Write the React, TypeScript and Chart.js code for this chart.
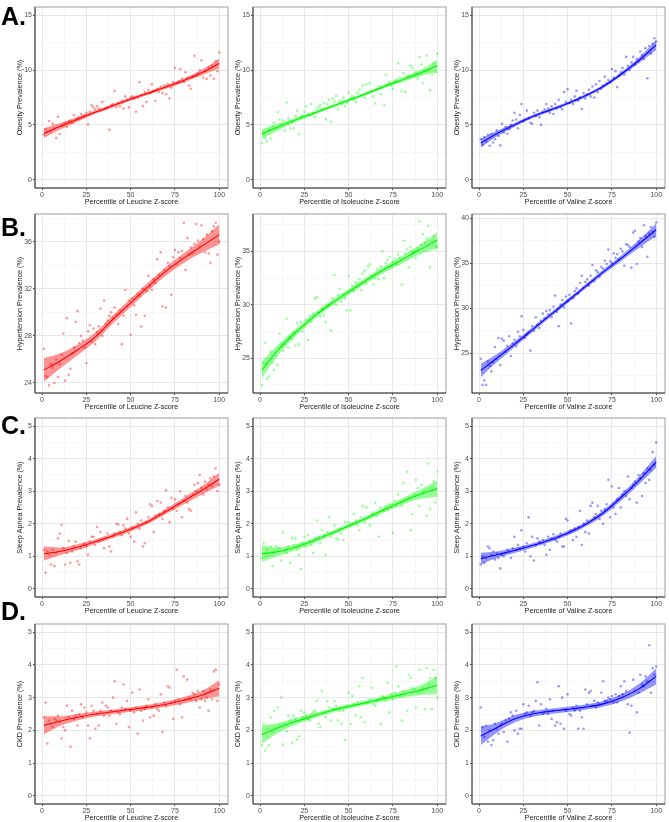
import React, { useEffect, useRef } from "react";
import { Chart, registerables } from "chart.js";

Chart.register(...registerables);

// ---- data -------------------------------------------------------------

const percentile = [
  1, 2, 3, 4, 5, 6, 7, 8, 9, 10, 11, 12, 13, 14, 15, 16, 17, 18, 19, 20,
  21, 22, 23, 24, 25, 26, 27, 28, 29, 30, 31, 32, 33, 34, 35, 36, 37, 38, 39, 40,
  41, 42, 43, 44, 45, 46, 47, 48, 49, 50, 51, 52, 53, 54, 55, 56, 57, 58, 59, 60,
  61, 62, 63, 64, 65, 66, 67, 68, 69, 70, 71, 72, 73, 74, 75, 76, 77, 78, 79, 80,
  81, 82, 83, 84, 85, 86, 87, 88, 89, 90, 91, 92, 93, 94, 95, 96, 97, 98, 99, 100,
];

// x positions where the smoothed fit and its confidence half-width are given
const fitAt = [1, 10, 20, 30, 40, 50, 60, 70, 80, 90, 100];

// Obesity prevalence (%)
const obesityLeucine = [
  4.1, 4.6, 4.3, 5.35, 4.4, 5.1, 4.7, 3.8, 5.75, 4.2,
  4.9, 5.0, 5.2, 4.8, 5.3, 5.4, 5.2, 5.9, 5.5, 5.6,
  5.7, 6.0, 5.8, 5.9, 6.1, 5.05, 6.2, 6.8, 6.6, 6.4,
  6.7, 6.5, 6.3, 7.1, 6.4, 6.5, 6.6, 4.55, 6.8, 6.9,
  8.1, 6.6, 7.0, 6.7, 7.2, 6.5, 7.6, 7.3, 6.6, 7.5,
  7.6, 7.4, 6.2, 7.5, 8.9, 7.7, 6.7, 8.0, 7.1, 8.2,
  7.9, 8.7, 8.1, 7.2, 8.3, 8.0, 8.5, 7.9, 8.6, 7.8,
  8.7, 7.4, 8.4, 8.9, 10.2, 8.8, 9.0, 10.1, 9.2, 8.9,
  9.8, 9.3, 8.6, 8.3, 9.4, 11.3, 9.5, 9.7, 10.0, 10.9,
  9.3, 9.9, 9.2, 10.2, 9.5, 10.4, 9.2, 10.8, 9.9, 11.6,
];
const obesityLeucineFit = [4.25, 4.85, 5.5, 6.15, 6.75, 7.35, 7.9, 8.45, 9.05, 9.75, 10.6];
const obesityLeucineBand = [0.45, 0.3, 0.2, 0.16, 0.15, 0.15, 0.15, 0.16, 0.18, 0.25, 0.45];

const obesityIsoleucine = [
  3.35, 4.3, 3.8, 3.5, 4.6, 3.75, 4.9, 5.2, 4.7, 6.15,
  5.5, 5.0, 5.4, 4.5, 7.05, 5.6, 4.7, 5.3, 4.7, 5.8,
  6.3, 4.15, 5.7, 5.9, 6.2, 6.7, 6.0, 5.85, 6.9, 6.1,
  5.7, 6.4, 6.6, 6.8, 6.5, 7.0, 5.5, 6.9, 7.3, 5.3,
  7.4, 7.1, 7.65, 6.4, 7.2, 6.9, 7.5, 6.7, 7.0, 7.95,
  7.4, 7.6, 7.3, 7.1, 7.9, 8.2, 7.7, 8.6, 7.5, 8.7,
  8.0, 8.8, 8.1, 7.6, 6.95, 8.3, 8.5, 7.8, 8.4, 6.8,
  9.55, 8.7, 8.9, 8.6, 8.3, 9.0, 9.1, 10.6, 9.3, 8.1,
  9.7, 8.0, 9.4, 9.5, 10.4, 10.2, 9.6, 9.8, 9.2, 11.2,
  10.5, 8.8, 9.9, 11.3, 10.0, 8.15, 9.6, 10.6, 9.8, 11.5,
];
const obesityIsoleucineFit = [4.15, 4.8, 5.45, 6.05, 6.65, 7.25, 7.85, 8.5, 9.1, 9.7, 10.4];
const obesityIsoleucineBand = [0.45, 0.3, 0.2, 0.16, 0.15, 0.15, 0.15, 0.16, 0.2, 0.28, 0.55];

const obesityValine = [
  3.7, 3.2, 3.9, 3.5, 4.1, 3.1, 4.2, 3.4, 3.7, 4.5,
  4.0, 3.15, 5.1, 4.3, 4.8, 4.2, 4.6, 5.0, 5.4, 6.1,
  5.5, 4.7, 5.9, 6.9, 5.3, 5.5, 6.3, 5.6, 5.2, 5.1,
  6.1, 5.8, 6.3, 5.7, 5.0, 6.2, 6.4, 6.9, 6.5, 6.1,
  6.7, 6.0, 6.9, 6.5, 7.3, 6.6, 6.4, 8.0, 7.1, 8.25,
  7.0, 7.3, 6.9, 7.6, 8.1, 7.2, 7.5, 6.45, 7.9, 7.4,
  7.8, 8.2, 7.6, 8.5, 7.5, 8.7, 8.0, 9.0, 8.3, 8.6,
  9.4, 8.8, 9.1, 8.9, 10.1, 9.3, 9.9, 8.45, 9.5, 9.8,
  10.2, 9.6, 11.2, 10.4, 10.0, 10.7, 11.2, 10.5, 11.0, 10.8,
  11.7, 11.4, 11.0, 12.0, 9.25, 12.2, 11.5, 12.4, 12.9, 12.6,
];
const obesityValineFit = [3.35, 4.2, 5.0, 5.75, 6.35, 6.95, 7.65, 8.5, 9.6, 10.85, 12.3];
const obesityValineBand = [0.4, 0.25, 0.18, 0.15, 0.14, 0.14, 0.14, 0.15, 0.18, 0.25, 0.45];

// Hypertension prevalence (%)
const hypertensionLeucine = [
  26.9, 24.6, 24.5, 23.8, 25.6, 25.3, 24.0, 26.0, 24.5, 25.6,
  26.4, 28.2, 24.2, 29.5, 24.7, 25.2, 26.5, 27.0, 29.2, 30.1,
  27.4, 28.0, 27.6, 27.0, 25.7, 28.4, 28.9, 27.5, 28.6, 27.3,
  28.3, 28.8, 30.3, 28.0, 31.0, 29.0, 29.3, 29.7, 30.0, 29.5,
  30.4, 29.8, 29.0, 30.2, 27.3, 29.7, 31.9, 30.5, 31.0, 28.1,
  31.2, 30.6, 29.8, 31.6, 31.4, 28.8, 32.0, 29.7, 31.8, 33.1,
  32.2, 31.9, 32.8, 32.5, 34.5, 33.2, 35.1, 30.5, 33.6, 30.4,
  34.2, 33.9, 31.5, 34.7, 35.3, 34.1, 35.1, 34.6, 35.2, 37.6,
  33.6, 36.3, 34.9, 35.5, 35.0, 35.8, 37.5, 36.1, 35.6, 37.4,
  36.2, 35.1, 36.6, 35.0, 34.2, 36.9, 37.3, 37.6, 34.9, 36.0,
];
const hypertensionLeucineFit = [25.1, 25.85, 26.8, 27.9, 29.4, 30.8, 32.2, 33.5, 34.6, 35.6, 36.6];
const hypertensionLeucineBand = [1.0, 0.65, 0.45, 0.38, 0.35, 0.35, 0.35, 0.38, 0.42, 0.55, 0.85];

const hypertensionIsoleucine = [
  22.5, 24.5, 26.45, 23.1, 23.3, 25.6, 24.6, 23.9, 25.2, 24.4,
  27.3, 26.1, 25.7, 26.3, 28.7, 26.0, 27.0, 26.8, 27.4, 26.2,
  28.3, 26.3, 28.4, 27.5, 28.1, 28.6, 26.7, 29.0, 28.4, 29.2,
  30.6, 30.7, 29.3, 28.9, 29.6, 29.0, 28.4, 29.9, 30.0, 27.6,
  30.6, 32.8, 30.0, 30.9, 31.5, 30.3, 31.0, 30.6, 29.5, 32.7,
  29.5, 31.8, 31.3, 32.1, 31.7, 32.4, 31.4, 32.9, 33.2, 32.0,
  33.6, 33.8, 32.7, 31.9, 32.5, 33.3, 32.4, 33.6, 35.0, 32.5,
  33.9, 34.2, 34.5, 33.6, 34.0, 34.3, 33.8, 34.7, 34.4, 31.9,
  36.0, 34.8, 35.2, 33.5, 35.4, 34.9, 35.0, 34.4, 35.3, 37.8,
  35.6, 36.6, 35.8, 36.2, 37.4, 33.5, 35.9, 36.4, 35.5, 35.4,
];
const hypertensionIsoleucineFit = [23.9, 25.75, 27.4, 28.85, 30.1, 31.2, 32.3, 33.3, 34.2, 35.15, 36.05];
const hypertensionIsoleucineBand = [0.8, 0.5, 0.35, 0.3, 0.28, 0.28, 0.28, 0.3, 0.35, 0.45, 0.75];

const hypertensionValine = [
  24.4, 21.5, 22.0, 21.5, 24.1, 23.6, 23.0, 24.0, 25.7, 24.4,
  26.7, 23.7, 26.6, 26.4, 25.2, 25.8, 26.9, 24.7, 26.1, 26.5,
  25.8, 27.4, 26.9, 29.1, 27.6, 26.7, 27.1, 27.3, 25.3, 28.0,
  27.5, 29.0, 28.2, 27.8, 28.6, 29.4, 28.9, 29.7, 29.3, 29.8,
  29.0, 30.2, 31.4, 29.6, 28.0, 30.4, 30.9, 30.1, 31.3, 30.8,
  31.5, 28.3, 31.1, 31.9, 32.2, 31.6, 32.8, 33.6, 32.3, 32.9,
  33.2, 32.5, 33.6, 34.8, 33.0, 34.2, 34.0, 33.5, 34.6, 34.4,
  35.3, 34.9, 36.5, 35.2, 35.0, 36.1, 35.6, 36.0, 35.4, 36.6,
  36.3, 34.7, 37.1, 37.0, 36.8, 34.5, 38.4, 38.6, 34.9, 37.4,
  37.8, 36.8, 39.2, 38.0, 35.7, 38.3, 39.0, 38.5, 37.9, 39.5,
];
const hypertensionValineFit = [23.1, 24.45, 26.0, 27.6, 29.2, 30.8, 32.4, 34.0, 35.5, 37.1, 38.7];
const hypertensionValineBand = [0.75, 0.45, 0.32, 0.26, 0.24, 0.24, 0.24, 0.26, 0.32, 0.45, 0.7];

// Sleep apnea prevalence (%)
const sleepApneaLeucine = [
  1.2, 0.5, 1.15, 1.05, 0.75, 1.2, 0.7, 1.1, 1.55, 1.7,
  1.97, 1.25, 0.75, 1.1, 1.47, 0.8, 1.15, 1.3, 1.45, 0.85,
  0.75, 1.25, 1.35, 1.4, 1.3, 1.05, 1.45, 1.6, 1.6, 1.35,
  1.9, 1.45, 1.75, 1.5, 1.25, 1.55, 1.7, 1.3, 1.15, 1.6,
  1.7, 2.0, 1.98, 1.75, 1.65, 1.95, 1.85, 2.15, 1.7, 1.6,
  1.9, 1.45, 2.35, 2.0, 1.85, 2.1, 1.3, 1.4, 2.05, 2.2,
  2.6, 2.55, 1.75, 2.25, 2.7, 2.3, 2.65, 2.15, 2.4, 3.03,
  2.5, 2.05, 2.8, 2.45, 2.75, 2.4, 2.6, 3.0, 2.2, 2.7,
  2.85, 2.65, 2.45, 2.4, 2.9, 3.2, 3.0, 3.25, 3.5, 3.1,
  2.9, 3.3, 3.05, 3.2, 3.4, 3.15, 3.45, 3.7, 3.0, 3.2,
];
const sleepApneaLeucineFit = [1.08, 1.15, 1.28, 1.45, 1.63, 1.83, 2.07, 2.38, 2.7, 3.02, 3.37];
const sleepApneaLeucineBand = [0.22, 0.12, 0.09, 0.07, 0.07, 0.07, 0.07, 0.08, 0.1, 0.13, 0.2];

const sleepApneaIsoleucine = [
  0.95, 1.4, 1.0, 1.2, 1.05, 1.3, 0.7, 1.15, 1.3, 1.2,
  1.25, 0.87, 1.73, 1.2, 1.1, 1.3, 0.8, 1.55, 1.35, 1.55,
  1.2, 1.05, 0.62, 1.4, 1.6, 1.3, 1.65, 1.45, 1.35, 1.1,
  1.55, 2.1, 1.6, 1.4, 1.8, 1.65, 1.05, 1.75, 2.2, 1.6,
  1.7, 1.95, 1.55, 1.5, 1.85, 1.7, 1.5, 2.05, 1.9, 2.05,
  1.95, 2.0, 2.3, 2.1, 1.95, 1.8, 2.2, 2.55, 2.05, 2.5,
  2.2, 1.95, 2.3, 2.35, 2.65, 2.25, 1.6, 2.5, 2.4, 2.4,
  2.55, 2.45, 2.6, 2.5, 1.72, 2.7, 2.55, 2.9, 2.65, 2.55,
  3.25, 2.75, 3.6, 2.8, 1.8, 2.3, 2.9, 3.35, 3.1, 2.55,
  3.2, 2.95, 3.0, 2.25, 3.85, 2.45, 3.1, 3.3, 2.65, 3.6,
];
const sleepApneaIsoleucineFit = [1.08, 1.14, 1.28, 1.47, 1.7, 1.93, 2.17, 2.43, 2.68, 2.9, 3.08];
const sleepApneaIsoleucineBand = [0.25, 0.13, 0.09, 0.08, 0.07, 0.07, 0.07, 0.08, 0.1, 0.14, 0.25];

const sleepApneaValine = [
  0.75, 1.0, 0.8, 0.95, 1.3, 1.25, 1.05, 1.15, 0.9, 1.1,
  0.95, 0.63, 1.05, 1.0, 1.1, 1.2, 1.15, 0.95, 1.25, 1.6,
  1.2, 1.35, 1.25, 1.8, 1.3, 1.15, 1.4, 2.2, 1.0, 1.6,
  0.87, 1.35, 1.55, 1.45, 1.4, 1.5, 1.35, 1.05, 1.6, 1.2,
  1.55, 1.68, 1.5, 1.45, 1.6, 1.7, 1.3, 1.3, 2.15, 2.1,
  1.75, 1.8, 1.5, 1.85, 1.6, 1.9, 2.4, 1.35, 2.0, 1.75,
  2.1, 1.7, 2.55, 2.65, 2.2, 2.3, 2.55, 2.15, 2.4, 2.0,
  2.45, 2.6, 3.35, 2.2, 3.15, 2.5, 2.3, 2.75, 3.1, 2.5,
  2.9, 3.0, 2.85, 3.45, 2.75, 3.1, 3.2, 3.3, 2.65, 3.5,
  3.4, 2.85, 3.55, 3.25, 3.7, 3.35, 3.65, 4.2, 3.8, 4.5,
];
const sleepApneaValineFit = [0.93, 1.05, 1.18, 1.33, 1.5, 1.71, 1.98, 2.33, 2.8, 3.32, 3.9];
const sleepApneaValineBand = [0.18, 0.1, 0.08, 0.07, 0.07, 0.07, 0.07, 0.08, 0.1, 0.12, 0.18];

// CKD prevalence (%)
const ckdLeucine = [
  2.4, 2.85, 1.6, 2.3, 2.2, 2.1, 2.35, 2.3, 2.45, 2.25,
  1.75, 2.1, 2.0, 2.75, 2.4, 1.5, 2.6, 2.35, 2.45, 2.15,
  2.5, 2.8, 2.4, 2.7, 2.55, 2.15, 1.75, 2.75, 2.6, 2.05,
  2.5, 2.15, 2.6, 2.85, 2.45, 2.75, 2.7, 2.45, 2.6, 3.0,
  3.5, 2.2, 2.55, 2.5, 2.7, 3.4, 2.65, 2.9, 2.1, 2.6,
  3.15, 2.55, 2.7, 1.9, 3.25, 2.6, 2.3, 2.65, 2.75, 2.95,
  2.4, 2.7, 2.45, 2.8, 2.65, 2.6, 3.1, 1.95, 2.85, 2.75,
  3.35, 3.3, 2.85, 2.35, 2.9, 3.85, 2.95, 2.8, 2.4, 3.65,
  2.95, 3.55, 3.0, 2.95, 3.15, 3.1, 2.9, 3.2, 2.7, 2.95,
  3.2, 2.9, 3.0, 2.6, 3.25, 2.95, 3.8, 3.85, 2.9, 3.4,
];
const ckdLeucineFit = [2.15, 2.28, 2.4, 2.5, 2.57, 2.64, 2.71, 2.8, 2.92, 3.07, 3.29];
const ckdLeucineBand = [0.28, 0.15, 0.1, 0.08, 0.07, 0.07, 0.07, 0.08, 0.1, 0.13, 0.25];

const ckdIsoleucine = [
  1.55, 2.2, 1.38, 2.05, 1.55, 2.4, 1.95, 2.6, 2.1, 2.7,
  2.15, 3.0, 1.57, 2.2, 1.97, 2.45, 2.3, 1.62, 2.45, 2.35,
  1.72, 1.82, 2.6, 2.4, 2.55, 2.45, 2.35, 2.3, 2.5, 2.55,
  2.6, 2.9, 2.2, 2.1, 3.2, 2.55, 2.4, 2.9, 2.7, 2.3,
  2.65, 2.9, 2.75, 2.3, 2.6, 2.2, 2.6, 1.7, 2.75, 3.15,
  2.2, 3.05, 2.8, 2.45, 2.85, 3.35, 2.4, 3.6, 2.25, 2.85,
  2.85, 2.95, 3.3, 2.8, 2.75, 2.9, 2.95, 2.2, 3.05, 3.0,
  2.9, 3.45, 2.55, 3.1, 2.95, 3.15, 3.95, 3.35, 3.05, 2.3,
  3.2, 3.1, 2.6, 3.7, 3.6, 3.3, 3.25, 2.7, 3.15, 3.85,
  3.2, 3.3, 2.65, 3.9, 3.4, 3.6, 2.65, 3.85, 3.6, 3.0,
];
const ckdIsoleucineFit = [1.87, 2.07, 2.27, 2.44, 2.6, 2.73, 2.85, 2.97, 3.1, 3.22, 3.38];
const ckdIsoleucineBand = [0.28, 0.15, 0.1, 0.08, 0.07, 0.07, 0.07, 0.08, 0.1, 0.14, 0.28];

const ckdValine = [
  2.7, 2.1, 1.8, 2.15, 1.65, 2.0, 1.55, 1.7, 2.2, 2.05,
  1.9, 2.15, 2.2, 1.95, 2.3, 1.65, 2.35, 2.55, 2.45, 2.0,
  2.6, 1.9, 2.05, 2.05, 2.8, 2.5, 2.55, 2.75, 2.45, 2.55,
  2.6, 2.9, 3.47, 2.15, 2.8, 2.5, 2.55, 2.65, 2.5, 2.95,
  2.35, 2.6, 2.15, 2.25, 3.35, 2.2, 3.0, 2.05, 2.6, 3.1,
  2.5, 2.45, 2.7, 2.6, 2.75, 2.05, 2.6, 2.4, 2.05, 3.25,
  2.8, 3.15, 3.2, 2.75, 2.9, 2.7, 2.85, 2.8, 3.15, 3.5,
  2.9, 2.9, 3.0, 2.95, 3.05, 2.85, 3.1, 2.85, 3.05, 3.35,
  3.1, 3.5, 3.2, 2.8, 1.93, 2.75, 3.55, 3.2, 2.55, 3.15,
  3.7, 3.4, 3.35, 3.65, 3.5, 4.6, 3.15, 3.9, 3.7, 3.95,
];
const ckdValineFit = [1.83, 2.08, 2.35, 2.5, 2.58, 2.64, 2.71, 2.81, 2.99, 3.26, 3.65];
const ckdValineBand = [0.28, 0.15, 0.11, 0.09, 0.08, 0.08, 0.08, 0.09, 0.11, 0.15, 0.25];

// axis breaks
const xMajor = [0, 25, 50, 75, 100];
const xMinor = [12.5, 37.5, 62.5, 87.5];
const prevMajor = [0, 1, 2, 3, 4, 5];
const prevMinor = [0.5, 1.5, 2.5, 3.5, 4.5];
const obesityMajor = [0, 5, 10, 15];
const obesityMinor = [2.5, 7.5, 12.5];

// ---- layout ------------------------------------------------------------

const FONT = "'Liberation Sans', Arial, Helvetica, sans-serif";
const Y_AXIS_W = 21;
const X_AXIS_H = 19;
const PAD_TOP = 1;
const PAD_RIGHT = 1;

const colLeft = [35, 253, 472];
const colWidth = 196;
const rowTop = [4, 211, 415, 621];
const rowHeight = [184, 182, 182, 183];

type RGB = [number, number, number];
const RED: RGB = [255, 0, 0];
const GREEN: RGB = [0, 255, 0];
const BLUE: RGB = [0, 0, 255];

type PanelSpec = {
  y: number[];
  fit: number[];
  band: number[];
  rgb: RGB;
  lineColor: string;
  xTitle: string;
  yTitle: string;
  yMin: number;
  yMax: number;
  yMajor: number[];
  yMinor: number[];
  col: number;
  row: number;
};

const aminoTitles = [
  "Percentile of Leucine Z-score",
  "Percentile of Isoleucine Z-score",
  "Percentile of Valine Z-score",
];
const colours: RGB[] = [RED, GREEN, BLUE];
const lineColours = ["#ff0000", "#00ee00", "#0000ff"];

function panel(
  row: number,
  col: number,
  y: number[],
  fit: number[],
  band: number[],
  yTitle: string,
  yMin: number,
  yMax: number,
  yMajor: number[],
  yMinor: number[]
): PanelSpec {
  return {
    y, fit, band, yTitle, yMin, yMax, yMajor, yMinor, row, col,
    rgb: colours[col],
    lineColor: lineColours[col],
    xTitle: aminoTitles[col],
  };
}

const panels: PanelSpec[] = [
  panel(0, 0, obesityLeucine, obesityLeucineFit, obesityLeucineBand, "Obesity Prevalence (%)", -0.75, 15.75, obesityMajor, obesityMinor),
  panel(0, 1, obesityIsoleucine, obesityIsoleucineFit, obesityIsoleucineBand, "Obesity Prevalence (%)", -0.75, 15.75, obesityMajor, obesityMinor),
  panel(0, 2, obesityValine, obesityValineFit, obesityValineBand, "Obesity Prevalence (%)", -0.75, 15.75, obesityMajor, obesityMinor),
  panel(1, 0, hypertensionLeucine, hypertensionLeucineFit, hypertensionLeucineBand, "Hypertension Prevalence (%)", 23.15, 38.35, [24, 28, 32, 36], [26, 30, 34, 38]),
  panel(1, 1, hypertensionIsoleucine, hypertensionIsoleucineFit, hypertensionIsoleucineBand, "Hypertension Prevalence (%)", 21.75, 38.5, [25, 30, 35], [22.5, 27.5, 32.5, 37.5]),
  panel(1, 2, hypertensionValine, hypertensionValineFit, hypertensionValineBand, "Hypertension Prevalence (%)", 20.6, 40.45, [25, 30, 35, 40], [22.5, 27.5, 32.5, 37.5]),
  panel(2, 0, sleepApneaLeucine, sleepApneaLeucineFit, sleepApneaLeucineBand, "Sleep Apnea Prevalence (%)", -0.25, 5.25, prevMajor, prevMinor),
  panel(2, 1, sleepApneaIsoleucine, sleepApneaIsoleucineFit, sleepApneaIsoleucineBand, "Sleep Apnea Prevalence (%)", -0.25, 5.25, prevMajor, prevMinor),
  panel(2, 2, sleepApneaValine, sleepApneaValineFit, sleepApneaValineBand, "Sleep Apnea Prevalence (%)", -0.25, 5.25, prevMajor, prevMinor),
  panel(3, 0, ckdLeucine, ckdLeucineFit, ckdLeucineBand, "CKD Prevalence (%)", -0.25, 5.25, prevMajor, prevMinor),
  panel(3, 1, ckdIsoleucine, ckdIsoleucineFit, ckdIsoleucineBand, "CKD Prevalence (%)", -0.25, 5.25, prevMajor, prevMinor),
  panel(3, 2, ckdValine, ckdValineFit, ckdValineBand, "CKD Prevalence (%)", -0.25, 5.25, prevMajor, prevMinor),
];

const rowLetters = ["A.", "B.", "C.", "D."];
const letterTop = [3.5, 214.5, 413, 598.5];

// panel border: light grey all round, darker axis lines on the left and bottom
const framePlugin = {
  id: "panelFrame",
  afterDraw(chart: any) {
    const { ctx, chartArea: a } = chart;
    ctx.save();
    ctx.lineWidth = 1;
    ctx.strokeStyle = "#9d9d9d";
    ctx.strokeRect(a.left, a.top, a.right - a.left, a.bottom - a.top);
    ctx.strokeStyle = "#3a3a3a";
    ctx.beginPath();
    ctx.moveTo(a.left, a.top);
    ctx.lineTo(a.left, a.bottom);
    ctx.lineTo(a.right, a.bottom);
    ctx.stroke();
    ctx.restore();
  },
};

function zeroPadding(s: any) {
  s.paddingLeft = 0;
  s.paddingRight = 0;
  s.paddingTop = 0;
  s.paddingBottom = 0;
}

function Panel({ spec }: { spec: PanelSpec }) {
  const ref = useRef<HTMLCanvasElement | null>(null);
  const width = Y_AXIS_W + colWidth + PAD_RIGHT;
  const height = PAD_TOP + rowHeight[spec.row] + X_AXIS_H;

  useEffect(() => {
    if (!ref.current) return;
    const [r, g, b] = spec.rgb;
    const rgba = (a: number) => `rgba(${r},${g},${b},${a})`;
    const points = percentile.map((x, i) => ({ x, y: spec.y[i] }));
    const fitLine = fitAt.map((x, i) => ({ x, y: spec.fit[i] }));
    const upper = fitAt.map((x, i) => ({ x, y: spec.fit[i] + spec.band[i] }));
    const lower = fitAt.map((x, i) => ({ x, y: spec.fit[i] - spec.band[i] }));
    const xTicks = [...xMajor, ...xMinor].sort((p, q) => p - q);
    const yTicks = [...spec.yMajor, ...spec.yMinor].sort((p, q) => p - q);

    const gridColor = (majors: number[]) => (c: any) =>
      c.tick && majors.includes(c.tick.value) ? "#e4e4e4" : "#f1f1f1";
    const gridWidth = (majors: number[]) => (c: any) =>
      c.tick && majors.includes(c.tick.value) ? 0.9 : 0.6;
    const tickColor = (majors: number[]) => (c: any) =>
      c.tick && majors.includes(c.tick.value) ? "#333333" : "rgba(0,0,0,0)";

    const tickFont = { family: FONT, size: 7 };
    const titleFont = { family: FONT, size: 7.2 };

    const chart = new Chart(ref.current, {
      type: "scatter",
      data: {
        datasets: [
          {
            type: "line",
            data: fitLine,
            borderColor: spec.lineColor,
            borderWidth: 1.1,
            pointRadius: 0,
            cubicInterpolationMode: "monotone",
            fill: false,
            order: 0,
          } as any,
          {
            type: "line",
            data: upper,
            borderColor: "rgba(0,0,0,0)",
            borderWidth: 0,
            pointRadius: 0,
            cubicInterpolationMode: "monotone",
            fill: false,
            order: 1,
          } as any,
          {
            type: "line",
            data: lower,
            borderColor: "rgba(0,0,0,0)",
            borderWidth: 0,
            pointRadius: 0,
            cubicInterpolationMode: "monotone",
            fill: "-1",
            backgroundColor: rgba(0.42),
            order: 1,
          } as any,
          {
            type: "scatter",
            data: points,
            pointRadius: 1.3,
            pointBackgroundColor: rgba(0.4),
            pointBorderWidth: 0,
            order: 2,
          } as any,
        ],
      },
      options: {
        responsive: false,
        animation: false,
        devicePixelRatio: 1,
        events: [],
        layout: { padding: { top: PAD_TOP, right: PAD_RIGHT, left: 0, bottom: 0 } },
        plugins: { legend: { display: false }, tooltip: { enabled: false } },
        scales: {
          x: {
            type: "linear",
            min: -3.95,
            max: 104.95,
            bounds: "data",
            afterBuildTicks: (s: any) => {
              s.ticks = xTicks.map((v) => ({ value: v }));
            },
            afterFit: (s: any) => {
              s.height = X_AXIS_H;
              zeroPadding(s);
            },
            ticks: {
              autoSkip: false,
              maxRotation: 0,
              padding: 0.5,
              color: "#4d4d4d",
              font: tickFont,
              callback: (v: any) => (xMajor.includes(Number(v)) ? String(v) : ""),
            },
            grid: {
              color: gridColor(xMajor),
              lineWidth: gridWidth(xMajor),
              tickColor: tickColor(xMajor),
              tickLength: 2,
              drawTicks: true,
            },
            border: { display: false },
            title: {
              display: true,
              text: spec.xTitle,
              color: "#1a1a1a",
              font: titleFont,
              padding: { top: 0, bottom: 0.6 },
            },
          },
          y: {
            type: "linear",
            min: spec.yMin,
            max: spec.yMax,
            bounds: "data",
            afterBuildTicks: (s: any) => {
              s.ticks = yTicks.map((v) => ({ value: v }));
            },
            afterFit: (s: any) => {
              s.width = Y_AXIS_W;
              zeroPadding(s);
            },
            ticks: {
              autoSkip: false,
              padding: 1,
              color: "#4d4d4d",
              font: tickFont,
              callback: (v: any) => (spec.yMajor.includes(Number(v)) ? String(v) : ""),
            },
            grid: {
              color: gridColor(spec.yMajor),
              lineWidth: gridWidth(spec.yMajor),
              tickColor: tickColor(spec.yMajor),
              tickLength: 2,
              drawTicks: true,
            },
            border: { display: false },
            title: {
              display: true,
              text: spec.yTitle,
              color: "#1a1a1a",
              font: titleFont,
              padding: { top: 1.4, bottom: 0 },
            },
          },
        },
      } as any,
      plugins: [framePlugin],
    });
    return () => chart.destroy();
  }, [spec]);

  return (
    <canvas
      ref={ref}
      width={width}
      height={height}
      style={{
        position: "absolute",
        left: colLeft[spec.col] - Y_AXIS_W,
        top: rowTop[spec.row] - PAD_TOP,
        width,
        height,
      }}
    />
  );
}

export default function App() {
  return (
    <div
      style={{
        position: "absolute",
        left: 0,
        top: 0,
        width: 669,
        height: 822,
        background: "#ffffff",
        overflow: "hidden",
        fontFamily: FONT,
      }}
    >
      {panels.map((p, i) => (
        <Panel key={i} spec={p} />
      ))}
      {rowLetters.map((t, i) => (
        <div
          key={t}
          style={{
            position: "absolute",
            left: 1,
            top: letterTop[i],
            fontFamily: FONT,
            fontWeight: 700,
            fontSize: 25,
            lineHeight: "25px",
            color: "#000",
            zIndex: 2,
          }}
        >
          {t}
        </div>
      ))}
    </div>
  );
}
